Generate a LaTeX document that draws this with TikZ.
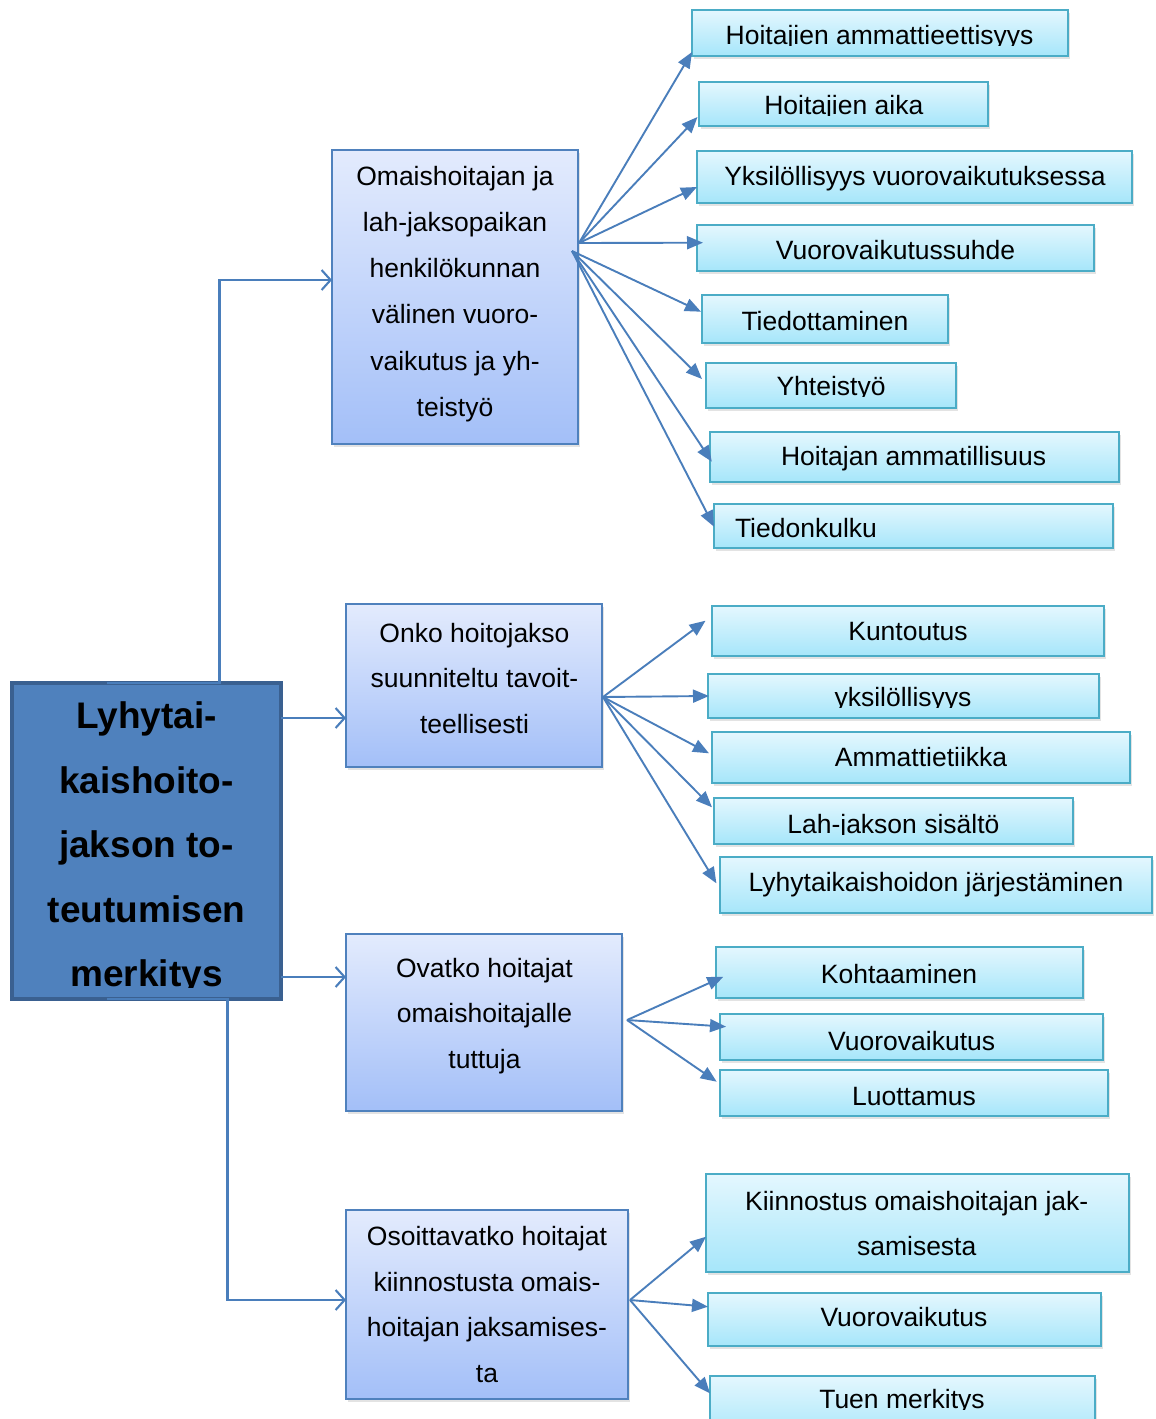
\documentclass[tikz,border=0pt]{standalone}
\usepackage{fontspec}
\setmainfont{Liberation Sans}
\usetikzlibrary{shadows,arrows.meta}
\definecolor{leaftop}{HTML}{E4F7FE}
\definecolor{leafbot}{HTML}{A6E6FA}
\definecolor{leafline}{HTML}{4BACC6}
\definecolor{midtop}{HTML}{E3EBFD}
\definecolor{midbot}{HTML}{A3BFF8}
\definecolor{midline}{HTML}{4F81BD}
\definecolor{mainfill}{HTML}{4F81BD}
\definecolor{mainline}{HTML}{3A6090}
\definecolor{conn}{HTML}{4A7EBB}
\begin{document}
\begin{tikzpicture}[x=1pt,y=-1pt,
  box/.style={rectangle, inner sep=0pt, outer sep=0pt, anchor=north west,
    drop shadow={opacity=0.22, shadow xshift=2pt, shadow yshift=-3pt}},
  leaf/.style={box, draw=leafline, line width=2pt, top color=leaftop, bottom color=leafbot},
  mid/.style={box, draw=midline, line width=2pt, top color=midtop, bottom color=midbot},
  mainbox/.style={rectangle, inner sep=0pt, outer sep=0pt, anchor=north west,
    draw=mainline, line width=4pt, fill=mainfill},
  txt/.style={inner sep=0pt, outer sep=0pt, font=\fontsize{26.5}{46}\selectfont, text=black},
  ltxt/.style={txt, anchor=base},
  mtxt/.style={txt, anchor=north, align=center},
  feed/.style={draw=conn, line width=1.9pt, -{Triangle[length=16pt,width=13pt]}},
  link/.style={draw=conn, line width=2.1pt, -{Straight Barb[length=9pt,width=20pt]}},
]
\clip (0,0) rectangle (1156,1419);
\fill[white] (0,0) rectangle (1156,1419);

% ---------- main box ----------
\node[mainbox, minimum width=269pt, minimum height=316pt] (main) at (12,683) {};
\begin{scope}
  \clip (12,683) rectangle (281,987.5);
  \node[txt, anchor=north, align=center, font=\fontsize{37}{64.5}\bfseries\selectfont] (maint) at (146.5,694.5)
    {\rule{0pt}{34pt}Lyhytai-\\kaishoito-\\jakson to-\\teutumisen\\merkitys};
\end{scope}

% ---------- middle boxes ----------
\node[mid, minimum width=246pt, minimum height=294pt] (M1) at (332,150) {};
\node[mid, minimum width=256pt, minimum height=163pt] (M2) at (346,604) {};
\node[mid, minimum width=276pt, minimum height=177pt] (M3) at (346,934) {};
\node[mid, minimum width=282pt, minimum height=189pt] (M4) at (346,1210) {};

\node[mtxt, font=\fontsize{26.5}{46.3}\selectfont] (M1t) at (455,161)
  {\rule{0pt}{24pt}Omaishoitajan ja\\lah-jaksopaikan\\henkilökunnan\\välinen vuoro-\\vaikutus ja yh-\\teistyö};
\node[mtxt, font=\fontsize{26.5}{45.5}\selectfont] (M2t) at (474.5,618.3)
  {\rule{0pt}{24pt}Onko hoitojakso\\suunniteltu tavoit-\\teellisesti};
\node[mtxt, font=\fontsize{26.5}{45.5}\selectfont] (M3t) at (484.5,953.3)
  {\rule{0pt}{24pt}Ovatko hoitajat\\omaishoitajalle\\tuttuja};
\node[mtxt, font=\fontsize{26.5}{45.5}\selectfont] (M4t) at (487,1221.7)
  {\rule{0pt}{24pt}Osoittavatko hoitajat\\kiinnostusta omais-\\hoitajan jaksamises-\\ta};

% ---------- leaf boxes ----------
\node[leaf, minimum width=376pt, minimum height=46pt] (L1) at (692,10) {};
\node[leaf, minimum width=289pt, minimum height=44pt] (L2) at (699,82) {};
\node[leaf, minimum width=435pt, minimum height=52pt] (L3) at (697,151) {};
\node[leaf, minimum width=397pt, minimum height=46pt] (L4) at (697,225) {};
\node[leaf, minimum width=246pt, minimum height=48pt] (L5) at (702,295) {};
\node[leaf, minimum width=250pt, minimum height=45pt] (L6) at (706,363) {};
\node[leaf, minimum width=409pt, minimum height=50pt] (L7) at (710,432) {};
\node[leaf, minimum width=399pt, minimum height=44pt] (L8) at (714,504) {};

\node[leaf, minimum width=392pt, minimum height=50pt] (K1) at (712,606) {};
\node[leaf, minimum width=391pt, minimum height=44pt] (K2) at (708,674) {};
\node[leaf, minimum width=418pt, minimum height=51pt] (K3) at (712,732) {};
\node[leaf, minimum width=359pt, minimum height=46pt] (K4) at (714,798) {};
\node[leaf, minimum width=432pt, minimum height=56pt] (K5) at (720,857) {};

\node[leaf, minimum width=367pt, minimum height=51pt] (T1) at (716,947) {};
\node[leaf, minimum width=383pt, minimum height=46pt] (T2) at (720,1014) {};
\node[leaf, minimum width=388pt, minimum height=46pt] (T3) at (720,1070) {};

\node[leaf, minimum width=423pt, minimum height=98pt] (U1) at (706,1174) {};
\node[leaf, minimum width=393pt, minimum height=53pt] (U2) at (708,1293) {};
\node[leaf, minimum width=385pt, minimum height=64pt] (U3) at (710,1376) {};

% ---------- leaf texts ----------
\begin{scope}\clip (692,10) rectangle (1068,45.3);
  \node[ltxt] (L1t) at (879.6,44.3) {Hoitajien ammattieettisyys};\end{scope}
\begin{scope}\clip (699,82) rectangle (988,115.3);
  \node[ltxt] (L2t) at (843.8,114.3) {Hoitajien aika};\end{scope}
\node[ltxt] (L3t) at (915,185) {Yksilöllisyys vuorovaikutuksessa};
\node[ltxt] (L4t) at (895.5,259.3) {Vuorovaikutussuhde};
\node[ltxt] (L5t) at (825,330.7) {Tiedottaminen};
\begin{scope}\clip (706,363) rectangle (956,396.7);
  \node[ltxt] (L6t) at (831,395.7) {Yhteistyö};\end{scope}
\node[ltxt] (L7t) at (913.6,465.7) {Hoitajan ammatillisuus};
\begin{scope}\clip (714,504) rectangle (1113,538.3);
  \node[ltxt, anchor=base west] (L8t) at (735,537.3) {Tiedonkulku};\end{scope}

\node[ltxt] (K1t) at (908,640.7) {Kuntoutus};
\begin{scope}\clip (708,674) rectangle (1099,707.7);
  \node[ltxt] (K2t) at (903,706.7) {yksilöllisyys};\end{scope}
\node[ltxt] (K3t) at (921,766.7) {Ammattietiikka};
\begin{scope}\clip (714,798) rectangle (1073,834.3);
  \node[ltxt] (K4t) at (893.4,833.3) {Lah-jakson sisältö};\end{scope}
\node[ltxt] (K5t) at (936,891.7) {Lyhytaikaishoidon järjestäminen};

\node[ltxt] (T1t) at (899,983.3) {Kohtaaminen};
\node[ltxt] (T2t) at (911.7,1050) {Vuorovaikutus};
\node[ltxt] (T3t) at (914,1105.7) {Luottamus};

\node[mtxt, font=\fontsize{26.5}{45}\selectfont] (U1t) at (916.7,1186)
  {\rule{0pt}{24pt}Kiinnostus omaishoitajan jak-\\samisesta};
\node[ltxt] (U2t) at (904,1326.7) {Vuorovaikutus};
\begin{scope}\clip (710,1376) rectangle (1095,1409.3);
  \node[ltxt] (U3t) at (902,1408.3) {Tuen merkitys};\end{scope}

% ---------- connectors from the main box ----------
\draw[link] ([xshift=-39.5pt]main.north) -- ++(112.5,0) |- ([yshift=17pt]M1.west);
\draw[link] ([yshift=123pt]main.east) -- ([yshift=-32.5pt]M2.west);
\draw[link] ([yshift=-136pt]main.east) -- ([yshift=45.5pt]M3.west);
\draw[link] ([xshift=-39.5pt]main.south) -- ++(120.5,0) |- ([yshift=4.5pt]M4.west);

% ---------- group 1 ----------
\draw[feed] ([xshift=1pt,yshift=54pt]M1.east) -- ([yshift=4pt]L1.south west);
\draw[feed] ([xshift=1pt,yshift=54pt]M1.east) -- ([xshift=-1.5pt,yshift=9pt]L2.south west);
\draw[feed] ([xshift=1pt,yshift=54pt]M1.east) -- ([yshift=16pt]L3.south west);
\draw[feed] ([xshift=1pt,yshift=54pt]M1.east) -- ([xshift=6pt,yshift=-17.7pt]L4.north west);
\draw[feed] ([xshift=-6pt,yshift=46pt]M1.east) -- ([xshift=-1pt,yshift=-16.7pt]L5.north west);
\draw[feed] ([xshift=-6pt,yshift=46pt]M1.east) -- ([xshift=-4pt,yshift=-16pt]L6.north west);
\draw[feed] ([xshift=-6pt,yshift=46pt]M1.east) -- ([xshift=1.8pt,yshift=-29.7pt]L7.north west);
\draw[feed] ([xshift=-6pt,yshift=46pt]M1.east) -- ([yshift=-22.7pt]L8.north west);

% ---------- group 2 ----------
\draw[feed] ([xshift=1pt,yshift=-11.5pt]M2.east) -- ([xshift=-6.5pt,yshift=10.3pt]K1.west);
\draw[feed] ([xshift=1pt,yshift=-11.5pt]M2.east) -- ([xshift=1pt]K2.west);
\draw[feed] ([xshift=1pt,yshift=-11.5pt]M2.east) -- ([xshift=-3pt,yshift=4.2pt]K3.west);
\draw[feed] ([xshift=1pt,yshift=-11.5pt]M2.east) -- ([xshift=-2pt,yshift=-9.3pt]K4.north west);
\draw[feed] ([xshift=1pt,yshift=-11.5pt]M2.east) -- ([xshift=-3.6pt,yshift=1.7pt]K5.west);

% ---------- group 3 ----------
\draw[feed] ([xshift=5pt,yshift=2.5pt]M3.east) -- ([xshift=7.3pt,yshift=-4.2pt]T1.west);
\draw[feed] ([xshift=5pt,yshift=2.5pt]M3.east) -- ([xshift=6pt,yshift=10.3pt]T2.west);
\draw[feed] ([xshift=5pt,yshift=2.5pt]M3.east) -- ([xshift=-3.3pt,yshift=-11.7pt]T3.north west);

% ---------- group 4 ----------
\draw[feed] ([xshift=2pt,yshift=4.5pt]M4.east) -- ([yshift=-13.7pt]U1.west);
\draw[feed] ([xshift=2pt,yshift=4.5pt]M4.east) -- ([yshift=12.8pt]U2.west);
\draw[feed] ([xshift=2pt,yshift=4.5pt]M4.east) -- ([yshift=-17.3pt]U3.north west);
\end{tikzpicture}
\end{document}
